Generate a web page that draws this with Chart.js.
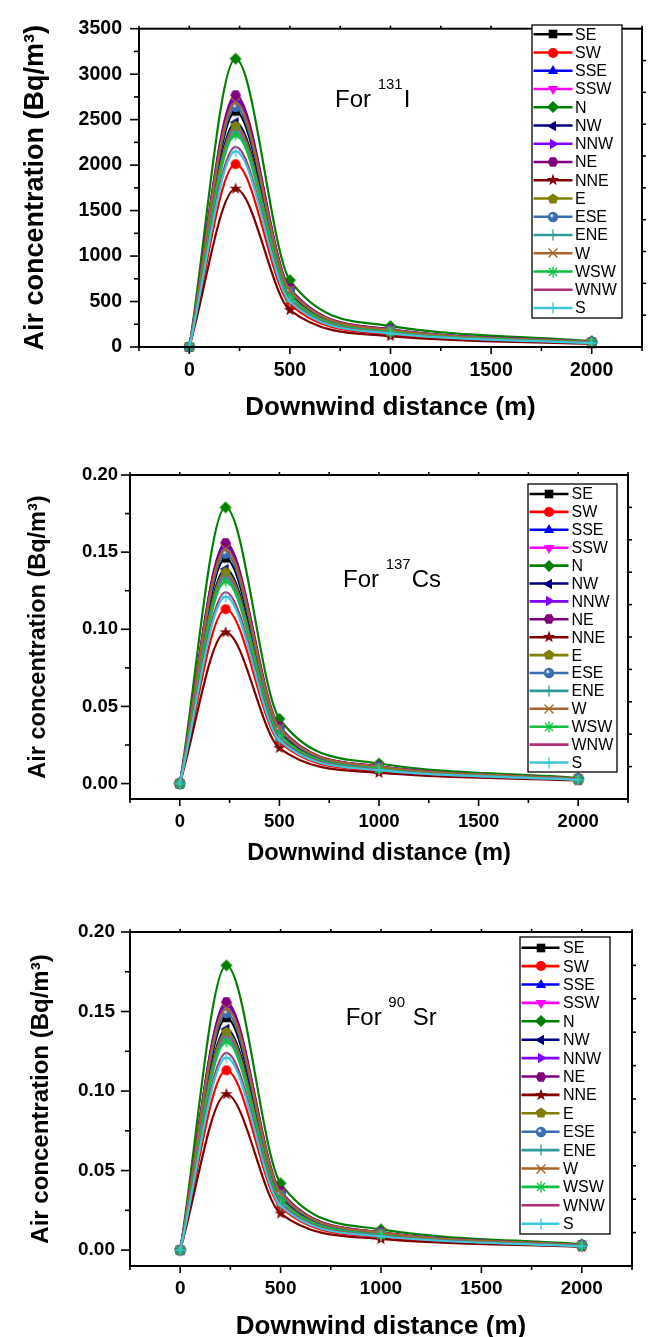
<!DOCTYPE html>
<html>
<head>
<meta charset="utf-8">
<script src="https://cdn.jsdelivr.net/npm/chart.js@4.4.1/dist/chart.umd.min.js"></script>
<style>
  body { margin: 0; background: #fff; width: 653px; height: 1337px; position: relative; overflow: hidden; }
  canvas { position: absolute; left: 0; }
</style>
</head>
<body>
<canvas id="chartI" width="653" height="430" style="top:0"></canvas>
<canvas id="chartCs" width="653" height="445" style="top:430px"></canvas>
<canvas id="chartSr" width="653" height="462" style="top:875px"></canvas>
<script>
// wind directions (one series each) and downwind distances (m)
const directions = ['SE', 'SW', 'SSE', 'SSW', 'N', 'NW', 'NNW', 'NE', 'NNE', 'E', 'ESE', 'ENE', 'W', 'WSW', 'WNW', 'S'];
const distances = [0, 230, 500, 1000, 2000];

// 131I air concentration (Bq/m3), one value per direction at each distance
const i131At0    = [0, 0, 0, 0, 0, 0, 0, 0, 0, 0, 0, 0, 0, 0, 0, 0];
const i131At230  = [2590, 2010, 2720, 2400, 3170, 2470, 2740, 2770, 1740, 2430, 2640, 2360, 2690, 2330, 2200, 2150];
const i131At500  = [600, 470, 630, 560, 735, 575, 640, 645, 405, 565, 615, 550, 625, 540, 510, 500];
const i131At1000 = [180, 140, 190, 168, 230, 173, 192, 194, 120, 170, 185, 165, 188, 163, 154, 150];
const i131At2000 = [52, 40, 55, 48, 65, 50, 55, 56, 35, 49, 53, 47, 54, 47, 44, 43];

// 137Cs
const cs137At0    = [0, 0, 0, 0, 0, 0, 0, 0, 0, 0, 0, 0, 0, 0, 0, 0];
const cs137At230  = [0.146, 0.113, 0.154, 0.135, 0.179, 0.139, 0.155, 0.156, 0.098, 0.137, 0.149, 0.133, 0.152, 0.131, 0.124, 0.121];
const cs137At500  = [0.034, 0.027, 0.036, 0.032, 0.042, 0.033, 0.036, 0.037, 0.023, 0.032, 0.035, 0.031, 0.036, 0.031, 0.029, 0.028];
const cs137At1000 = [0.0105, 0.0081, 0.011, 0.0097, 0.013, 0.010, 0.0111, 0.0112, 0.007, 0.0098, 0.0107, 0.0096, 0.011, 0.0094, 0.0089, 0.0087];
const cs137At2000 = [0.003, 0.0023, 0.0031, 0.0027, 0.0036, 0.0028, 0.0031, 0.0032, 0.002, 0.0028, 0.003, 0.0027, 0.0031, 0.0026, 0.0025, 0.0024];

// 90Sr
const sr90At0    = [0, 0, 0, 0, 0, 0, 0, 0, 0, 0, 0, 0, 0, 0, 0, 0];
const sr90At230  = [0.146, 0.113, 0.154, 0.135, 0.179, 0.139, 0.155, 0.156, 0.098, 0.137, 0.149, 0.133, 0.152, 0.131, 0.124, 0.121];
const sr90At500  = [0.034, 0.027, 0.036, 0.032, 0.042, 0.033, 0.036, 0.037, 0.023, 0.032, 0.035, 0.031, 0.036, 0.031, 0.029, 0.028];
const sr90At1000 = [0.0105, 0.0081, 0.011, 0.0097, 0.013, 0.010, 0.0111, 0.0112, 0.007, 0.0098, 0.0107, 0.0096, 0.011, 0.0094, 0.0089, 0.0087];
const sr90At2000 = [0.003, 0.0023, 0.0031, 0.0027, 0.0036, 0.0028, 0.0031, 0.0032, 0.002, 0.0028, 0.003, 0.0027, 0.0031, 0.0026, 0.0025, 0.0024];

// tick labels
const xTicks = [0, 500, 1000, 1500, 2000];
const yTicksI = [0, 500, 1000, 1500, 2000, 2500, 3000, 3500];
const yTicksSmall = [0, 0.05, 0.10, 0.15, 0.20];

const seriesColors = ['#000000', '#ff0000', '#0000ff', '#ff00ff', '#008000', '#000080', '#8000ff', '#800080',
  '#800000', '#808000', '#3a6eb0', '#2e9a9a', '#a8642a', '#10c040', '#b03078', '#3cc8d8'];
const seriesMarkers = ['square', 'circle', 'triUp', 'triDown', 'diamond', 'triLeft', 'triRight', 'hexagon',
  'star', 'pentagon', 'sphere', 'plus', 'cross', 'asterisk', 'none', 'plus'];

const SANS = '"Liberation Sans", Arial, sans-serif';

function makeMarker(shape, color) {
  if (shape === 'none') return null;
  const c = document.createElement('canvas');
  c.width = 14; c.height = 14;
  const g = c.getContext('2d');
  g.translate(7, 7);
  g.fillStyle = color;
  g.strokeStyle = color;
  g.lineWidth = 1.3;
  const poly = (n, r, start) => {
    g.beginPath();
    for (let k = 0; k < n; k++) {
      const t = start + k * 2 * Math.PI / n;
      g.lineTo(r * Math.cos(t), r * Math.sin(t));
    }
    g.closePath();
    g.fill();
  };
  const seg = (x1, y1, x2, y2) => { g.beginPath(); g.moveTo(x1, y1); g.lineTo(x2, y2); g.stroke(); };
  const up = -Math.PI / 2;
  switch (shape) {
    case 'square': g.fillRect(-4.3, -4.3, 8.6, 8.6); break;
    case 'circle': g.beginPath(); g.arc(0, 0, 5, 0, Math.PI * 2); g.fill(); break;
    case 'triUp': poly(3, 6, up); break;
    case 'triDown': poly(3, 6, Math.PI / 2); break;
    case 'triLeft': poly(3, 6, Math.PI); break;
    case 'triRight': poly(3, 6, 0); break;
    case 'diamond': poly(4, 6, up); break;
    case 'hexagon': poly(6, 5.4, 0); break;
    case 'pentagon': poly(5, 5.6, up); break;
    case 'star':
      g.beginPath();
      for (let k = 0; k < 10; k++) {
        const r = k % 2 ? 2.5 : 6.4;
        const t = up + k * Math.PI / 5;
        g.lineTo(r * Math.cos(t), r * Math.sin(t));
      }
      g.closePath();
      g.fill();
      break;
    case 'sphere': {
      const grad = g.createRadialGradient(-1.6, -1.6, 0.5, 0, 0, 5.2);
      grad.addColorStop(0, '#ffffff');
      grad.addColorStop(0.35, color);
      grad.addColorStop(1, color);
      g.fillStyle = grad;
      g.beginPath(); g.arc(0, 0, 5.2, 0, Math.PI * 2); g.fill();
      break;
    }
    case 'plus': seg(-5.5, 0, 5.5, 0); seg(0, -5.5, 0, 5.5); break;
    case 'cross': seg(-4.5, -4.5, 4.5, 4.5); seg(-4.5, 4.5, 4.5, -4.5); break;
    case 'asterisk':
      seg(-5.5, 0, 5.5, 0); seg(0, -5.5, 0, 5.5);
      seg(-4, -4, 4, 4); seg(-4, 4, 4, -4);
      break;
  }
  return c;
}

const markerImages = seriesMarkers.map((m, i) => makeMarker(m, seriesColors[i]));

// frame around the plot, outward ticks (major + minor) and mirrored ticks on top/right
const framePlugin = {
  id: 'frame',
  afterDraw(chart, args, o) {
    const { ctx, chartArea: a, scales: { x, y } } = chart;
    ctx.save();
    ctx.strokeStyle = '#000';
    ctx.lineWidth = 2;
    ctx.strokeRect(a.left, a.top, a.right - a.left, a.bottom - a.top);
    ctx.lineWidth = 1.6;
    const tick = (x1, y1, x2, y2) => { ctx.beginPath(); ctx.moveTo(x1, y1); ctx.lineTo(x2, y2); ctx.stroke(); };
    for (let k = 0; x.min + k * o.xMinor <= x.max + 1e-9; k++) {
      const v = x.min + k * o.xMinor;
      const px = x.getPixelForValue(v);
      const major = xTicks.includes(v);
      tick(px, a.bottom, px, a.bottom + (major ? 7 : 4));
      tick(px, a.top, px, a.top - 3);
    }
    for (let k = 0; k * o.yMinor <= y.max + 1e-9; k++) {
      const v = k * o.yMinor;
      const py = y.getPixelForValue(v);
      tick(a.left, py, a.left - (k % 2 === 0 ? 9 : 5), py);
    }
    for (let k = 1; k < 10; k++) {
      const py = a.top + (a.bottom - a.top) * k / 10;
      tick(a.right, py, a.right + 4, py);
    }
    ctx.restore();
  }
};

// boxed legend with line + marker samples
const boxLegend = {
  id: 'boxLegend',
  afterDraw(chart, args, o) {
    const ctx = chart.ctx;
    ctx.save();
    ctx.fillStyle = '#fff';
    ctx.fillRect(o.x, o.y, o.w, o.h);
    ctx.strokeStyle = '#000';
    ctx.lineWidth = 1.3;
    ctx.strokeRect(o.x, o.y, o.w, o.h);
    ctx.font = '16px ' + SANS;
    ctx.textBaseline = 'middle';
    chart.data.datasets.forEach((ds, i) => {
      const yy = o.y + o.first + i * o.step;
      ctx.strokeStyle = ds.borderColor;
      ctx.lineWidth = 2.6;
      ctx.beginPath();
      ctx.moveTo(o.x + 1.5, yy);
      ctx.lineTo(o.x + 1.5 + o.lineLen, yy);
      ctx.stroke();
      const img = markerImages[i];
      if (img) ctx.drawImage(img, Math.round(o.x + 1.5 + o.lineLen / 2 - 7), Math.round(yy - 7));
      ctx.fillStyle = '#000';
      ctx.fillText(directions[i], o.x + o.textX, yy + 1);
    });
    ctx.restore();
  }
};

// "For 131I" style label with superscript mass number
const nuclideLabel = {
  id: 'nuclideLabel',
  afterDraw(chart, args, o) {
    const ctx = chart.ctx;
    ctx.save();
    ctx.fillStyle = '#000';
    ctx.textBaseline = 'alphabetic';
    ctx.font = '24px ' + SANS;
    ctx.fillText(o.main, o.x, o.y);
    let px = o.x + ctx.measureText(o.main).width;
    ctx.font = '15px ' + SANS;
    ctx.fillText(o.sup, px, o.y - 18);
    px += ctx.measureText(o.sup).width + 1;
    ctx.font = '24px ' + SANS;
    ctx.fillText(o.rest, px, o.y);
    ctx.restore();
  }
};

function buildChart(id, p) {
  const datasets = directions.map((dir, i) => ({
    label: dir,
    data: distances.map((d, k) => ({ x: d, y: p.rows[k][i] })),
    borderColor: seriesColors[i],
    backgroundColor: seriesColors[i],
    borderWidth: 2.2,
    pointStyle: markerImages[i] || 'circle',
    pointRadius: markerImages[i] ? 6 : 0,
    cubicInterpolationMode: 'monotone',
    clip: false,
    order: directions.length - i
  }));

  new Chart(document.getElementById(id), {
    type: 'line',
    data: { datasets },
    plugins: [framePlugin, boxLegend, nuclideLabel],
    options: {
      responsive: false,
      animation: false,
      events: [],
      layout: { padding: { top: p.padTop, right: p.padRight, left: 0, bottom: 0 } },
      scales: {
        x: {
          type: 'linear',
          min: -250,
          max: 2250,
          afterBuildTicks: (s) => { s.ticks = xTicks.map(v => ({ value: v })); },
          afterFit: (s) => { s.height = p.xAxisHeight; },
          grid: { display: false, drawTicks: false },
          border: { display: true, color: '#000', width: 2 },
          ticks: { color: '#000', padding: p.xTickPad, autoSkip: false, maxRotation: 0,
            callback: (v) => String(v),
            font: { family: SANS, weight: 'bold', size: p.tickSize } },
          title: { display: true, text: 'Downwind distance (m)', color: '#000',
            padding: { top: 0, bottom: p.xTitlePad },
            font: { family: SANS, weight: 'bold', size: p.xTitleSize } }
        },
        y: {
          type: 'linear',
          min: p.yMin,
          max: p.yMax,
          afterBuildTicks: (s) => { s.ticks = p.yTicks.map(v => ({ value: v })); },
          afterFit: (s) => { s.width = p.yAxisWidth; },
          grid: { display: false, drawTicks: false },
          border: { display: true, color: '#000', width: 2 },
          ticks: { color: '#000', padding: p.yTickPad,
            callback: p.yFormat,
            font: { family: SANS, weight: 'bold', size: p.tickSize } },
          title: { display: true, text: 'Air concentration (Bq/m³)', color: '#000',
            padding: { top: p.yTitlePad, bottom: 0 },
            font: { family: SANS, weight: 'bold', size: p.yTitleSize } }
        }
      },
      plugins: {
        legend: { display: false },
        tooltip: { enabled: false },
        frame: { xMinor: 250, yMinor: p.yMinor },
        boxLegend: p.legend,
        nuclideLabel: p.label
      }
    }
  });
}

buildChart('chartI', {
  rows: [i131At0, i131At230, i131At500, i131At1000, i131At2000],
  yMin: 0, yMax: 3500, yTicks: yTicksI, yMinor: 250,
  yFormat: (v) => String(v),
  padTop: 17, padRight: 11, xAxisHeight: 83, yAxisWidth: 139,
  tickSize: 19.5, xTickPad: 12, yTickPad: 17,
  xTitleSize: 26, xTitlePad: 7, yTitleSize: 27, yTitlePad: 19,
  legend: { x: 532, y: 25, w: 90, h: 293, first: 9.3, step: 18.25, lineLen: 39, textX: 43 },
  label: { x: 335, y: 107, main: 'For ', sup: '131', rest: 'I' }
});

buildChart('chartCs', {
  rows: [cs137At0, cs137At230, cs137At500, cs137At1000, cs137At2000],
  yMin: -0.01, yMax: 0.2, yTicks: yTicksSmall, yMinor: 0.025,
  yFormat: (v) => v.toFixed(2),
  padTop: 45, padRight: 25, xAxisHeight: 76, yAxisWidth: 130,
  tickSize: 18.5, xTickPad: 11.5, yTickPad: 12,
  xTitleSize: 23.6, xTitlePad: 7.5, yTitleSize: 23.5, yTitlePad: 24,
  legend: { x: 528, y: 54, w: 89, h: 288, first: 10, step: 17.9, lineLen: 39, textX: 43.5 },
  label: { x: 343, y: 156.7, main: 'For ', sup: '137', rest: 'Cs' }
});

buildChart('chartSr', {
  rows: [sr90At0, sr90At230, sr90At500, sr90At1000, sr90At2000],
  yMin: -0.01, yMax: 0.2, yTicks: yTicksSmall, yMinor: 0.025,
  yFormat: (v) => v.toFixed(2),
  padTop: 57, padRight: 21, xAxisHeight: 71, yAxisWidth: 130,
  tickSize: 19, xTickPad: 11, yTickPad: 15,
  xTitleSize: 26, xTitlePad: -5, yTitleSize: 24, yTitlePad: 27,
  legend: { x: 520, y: 62, w: 90, h: 297, first: 10.7, step: 18.4, lineLen: 38, textX: 43 },
  label: { x: 345.7, y: 150, main: 'For ', sup: '90', rest: ' Sr' }
});
</script>
</body>
</html>
